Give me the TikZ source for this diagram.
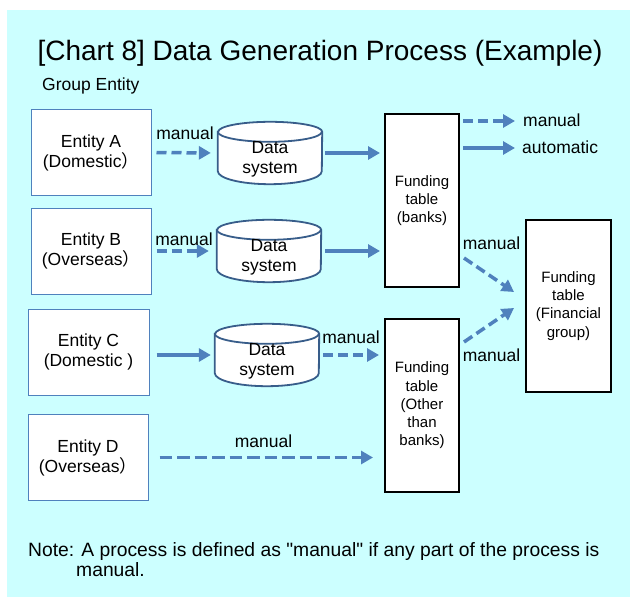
\documentclass[tikz,border=0pt]{standalone}
\usepackage{fontspec}
\setmainfont{Liberation Sans}[Ligatures=TeXOff]
\newfontfamily\cjk{Noto Sans CJK JP}
\usetikzlibrary{arrows.meta,calc}
\definecolor{bgcyan}{RGB}{204,255,255}
\definecolor{arrblue}{RGB}{79,129,189}
\definecolor{cylblue}{RGB}{56,93,138}
\definecolor{entborder}{RGB}{79,129,189}
\newcommand\mycyl[1]{%
  \filldraw[fill=white, draw=cylblue, line width=1.8pt]
    ($(#1.north west)+(0,10)$) -- ($(#1.south west)+(0,-13)$)
    arc[start angle=180, end angle=360, x radius=52pt, y radius=13pt]
    -- ($(#1.north east)+(0,10)$)
    arc[start angle=0, end angle=180, x radius=52pt, y radius=10pt] -- cycle;
  \draw[draw=cylblue, line width=1.8pt] ($(#1.north west)+(0,10)$)
    arc[start angle=180, end angle=360, x radius=52pt, y radius=10pt];
}
\begin{document}
\begin{tikzpicture}[x=1pt,y=-1pt,
  entity/.style={draw=entborder, line width=1pt, fill=white, minimum width=120pt,
    minimum height=86pt, align=center, inner sep=0pt, font=\fontsize{17.5}{20}\selectfont},
  fundtable/.style={draw=black, line width=2pt, fill=white, align=center, inner sep=0pt,
    font=\fontsize{15}{18.2}\selectfont},
  cylbox/.style={minimum width=104pt, minimum height=62pt, inner sep=0pt},
  cyltext/.style={align=center, inner sep=0pt, font=\fontsize{17.5}{20}\selectfont},
  lab/.style={anchor=base, inner sep=0pt, font=\fontsize{17.5}{20}\selectfont},
  solidarrow/.style={draw=arrblue, line width=3.5pt, -{Triangle[length=12pt,width=13pt]}},
  dasharrow/.style={solidarrow, dash pattern=on 10pt off 5pt},
  longdash/.style={solidarrow, dash pattern=on 12.5pt off 5pt}]
\useasboundingbox (0,0) rectangle (630,597);
\fill[white] (0,0) rectangle (630,597);
\fill[bgcyan] (7,10) rectangle (630,597);

% title
\node[anchor=base, inner sep=0pt, font=\fontsize{28}{33}\selectfont] (title) at (320,60)
  {[Chart 8] Data Generation Process (Example)};
\node[anchor=base west, inner sep=0pt, font=\fontsize{17.5}{20}\selectfont] (grp) at (42,90) {Group Entity};

% entities
\node[entity] (entA) at (91,152.5) {Entity A\\(Domestic{\cjk ）}};
\node[entity] (entB) at (91,251) {Entity B\\(Overseas{\cjk ）}};
\node[entity, minimum width=121pt] (entC) at (88.5,352) {Entity C\\(Domestic )};
\node[entity] (entD) at (88,457.5) {Entity D\\(Overseas{\cjk ）}};

% data systems
\node[cylbox] (cylA) at (270,153) {};
\node[cylbox] (cylB) at (269,251) {};
\node[cylbox] (cylC) at (267,355) {};
\mycyl{cylA}
\mycyl{cylB}
\mycyl{cylC}
\node[cyltext] (cylAt) at ($(cylA)+(0,6)$) {Data\\system};
\node[cyltext] (cylBt) at ($(cylB)+(0,6)$) {Data\\system};
\node[cyltext] (cylCt) at ($(cylC)+(0,6)$) {Data\\system};

% funding tables
\node[fundtable, minimum width=74pt, minimum height=173pt] (banks) at (422,200.5) {Funding\\table\\(banks)};
\node[fundtable, minimum width=74pt, minimum height=173pt] (other) at (422,405.5) {Funding\\table\\(Other\\than\\banks)};
\node[fundtable, minimum width=85pt, minimum height=172pt] (fin) at (568.5,306) {Funding\\table\\(Financial\\group)};

% row A
\draw[dasharrow, shorten <=5pt, shorten >=7pt] (entA.east) -- (cylA.west);
\node[lab] (lA) at (185,139) {manual};
\draw[solidarrow, shorten <=3pt, shorten >=4pt] (cylA.east) -- (cylA.east -| banks.west);
% row B
\draw[dasharrow, shorten <=5pt, shorten >=8pt] (entB.east |- cylB.west) -- (cylB.west);
\node[lab] (lB) at (184,245) {manual};
\draw[solidarrow, shorten <=4pt, shorten >=4pt] (cylB.east) -- (cylB.east -| banks.west);
% row C
\draw[solidarrow, shorten <=7pt, shorten >=4pt] (entC.east |- cylC.west) -- (cylC.west);
\draw[dasharrow, shorten <=4pt, shorten >=5pt] (cylC.east) -- (cylC.east -| other.west);
\node[lab] (lC) at (351,343) {manual};
% row D
\draw[longdash, shorten <=11pt, shorten >=11pt] (entD.east) -- (entD.east -| other.west);
\node[lab] (lD) at (263.5,447) {manual};

% to financial group
\draw[dasharrow] ($(banks.east)+(4,57.5)$) -- ($(fin.west)+(-11,-14)$);
\node[lab] (lBF) at (491.5,249) {manual};
\draw[dasharrow] ($(other.east)+(4,-63.5)$) -- ($(fin.west)+(-11,2)$);
\node[lab] (lOF) at (491.5,361) {manual};

% legend
\node[anchor=base west, inner sep=0pt, font=\fontsize{17.5}{20}\selectfont] (legM) at (523,126) {manual};
\node[anchor=base west, inner sep=0pt, font=\fontsize{17.5}{20}\selectfont] (legA) at (522,153) {automatic};
\coordinate (lg1) at (463,121);
\coordinate (lg2) at (463,148);
\draw[dasharrow, shorten >=8pt] (lg1) -- (lg1 -| legM.west);
\draw[solidarrow, shorten >=7pt] (lg2) -- (lg2 -| legA.west);

% note
\node[anchor=base west, inner sep=0pt, font=\fontsize{19.3}{23}\selectfont] (note1) at (28,556)
  {Note: A process is defined as "manual" if any part of the process is};
\node[anchor=base west, inner sep=0pt, font=\fontsize{19.3}{23}\selectfont] (note2) at (76,576) {manual.};
\end{tikzpicture}
\end{document}
